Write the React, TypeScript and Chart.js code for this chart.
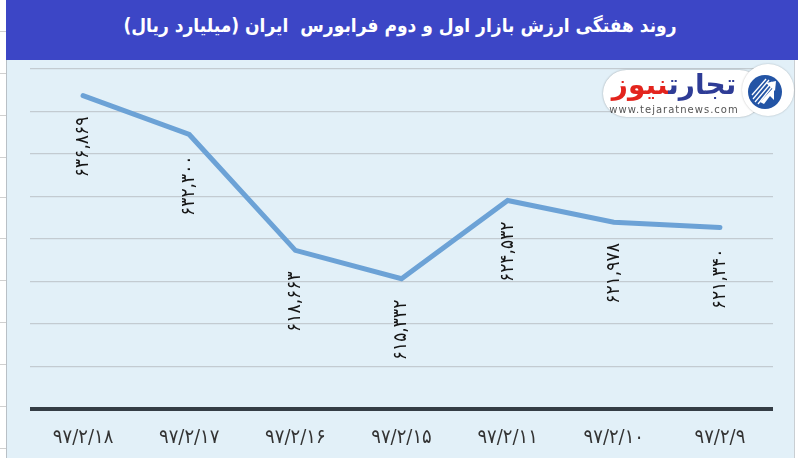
import React, { useEffect, useRef } from "react";
import { Chart, registerables } from "chart.js";

Chart.register(...registerables);

const categories = ["۹۷/۲/۱۸", "۹۷/۲/۱۷", "۹۷/۲/۱۶", "۹۷/۲/۱۵", "۹۷/۲/۱۱", "۹۷/۲/۱۰", "۹۷/۲/۹"];
const values = [636.869, 632.3, 618.663, 615.332, 624.532, 621.978, 621.34];
const yMin = 600;
const yMax = 640;
const yStep = 5;
const titleText = "روند هفتگی ارزش بازار اول و دوم فرابورس  ایران (میلیارد ریال)";

const FONT = '"DejaVu Sans Condensed", "DejaVu Sans", sans-serif';
const persianDigits = "۰۱۲۳۴۵۶۷۸۹";
function fmt(v: number): string {
  return v
    .toFixed(3)
    .replace(".", ",")
    .replace(/[0-9]/g, (d) => persianDigits[Number(d)]);
}

const labelPlugin = {
  id: "valueLabels",
  afterDatasetsDraw(chart: any) {
    const meta = chart.getDatasetMeta(0);
    const ctx = chart.ctx as CanvasRenderingContext2D;
    ctx.save();
    ctx.font = `19px ${FONT}`;
    ctx.fillStyle = "#151515";
    ctx.textAlign = "right";
    ctx.textBaseline = "middle";
    meta.data.forEach((pt: any, i: number) => {
      ctx.save();
      ctx.translate(pt.x, pt.y + 21);
      ctx.rotate(-Math.PI / 2);
      ctx.fillText(fmt(values[i]), 0, 0);
      ctx.restore();
    });
    ctx.restore();
  },
};

export default function App() {
  const canvasRef = useRef<HTMLCanvasElement | null>(null);

  useEffect(() => {
    if (!canvasRef.current) return;
    const chart = new Chart(canvasRef.current, {
      type: "line",
      data: {
        labels: categories,
        datasets: [
          {
            data: values,
            borderColor: "#6ca2d6",
            borderWidth: 5,
            pointRadius: 0,
            tension: 0,
            borderCapStyle: "round",
            fill: false,
          },
        ],
      },
      options: {
        animation: false,
        responsive: false,
        maintainAspectRatio: false,
        layout: { padding: { left: 30, right: 27, top: 69, bottom: 11 } },
        plugins: {
          legend: { display: false },
          tooltip: { enabled: false },
          title: { display: false },
        },
        scales: {
          x: {
            offset: true,
            grid: { display: false, drawTicks: false },
            border: { display: false },
            afterFit: (scale: any) => {
              scale.height = 38;
            },
            ticks: {
              color: "#333333",
              font: { family: FONT, size: 20 },
              padding: 17,
              maxRotation: 0,
              autoSkip: false,
            },
          },
          y: {
            min: yMin,
            max: yMax,
            ticks: { display: false, stepSize: yStep },
            grid: {
              drawTicks: false,
              color: (c: any) => (c.tick && c.tick.value === yMin ? "#343d45" : "#c3cbd1"),
              lineWidth: (c: any) => (c.tick && c.tick.value === yMin ? 4 : 1.2),
            },
            border: { display: false },
          },
        },
      },
      plugins: [labelPlugin],
    } as any);
    return () => chart.destroy();
  }, []);

  const spreadsheetRows = [31, 73, 115, 157, 197, 238, 280, 322, 364, 406, 448];

  return (
    <div style={{ position: "fixed", left: 0, top: 0, width: 800, height: 458, background: "#ffffff", overflow: "hidden" }}>
      {spreadsheetRows.map((y) => (
        <div key={y} style={{ position: "absolute", left: 0, top: y, width: 6, height: 1, background: "#d0d0d0" }} />
      ))}
      <div style={{ position: "absolute", left: 6, top: 0, width: 792, height: 60, background: "#3c46c6" }} />
      <div
        style={{
          position: "absolute",
          left: 6,
          top: 60,
          width: 789,
          height: 398,
          background: "#e2f0f8",
          borderLeft: "1px solid #b9c0c6",
          borderRight: "1px solid #c9ced2",
          boxSizing: "border-box",
        }}
      />
      <div
        style={{
          position: "absolute",
          left: 0,
          top: 9,
          width: 800,
          textAlign: "center",
          color: "#ffffff",
          fontFamily: FONT,
          fontWeight: "bold",
          fontSize: 19,
          lineHeight: "32px",
          direction: "rtl",
          whiteSpace: "pre",
        }}
      >
        {titleText}
      </div>
      <canvas ref={canvasRef} width={800} height={458} style={{ position: "absolute", left: 0, top: 0, width: 800, height: 458 }} />
      {/* logo */}
      <div
        style={{
          position: "absolute",
          left: 603,
          top: 70,
          width: 160,
          height: 47,
          background: "#ffffff",
          borderRadius: 24,
          boxShadow: "0 0 2px rgba(0,0,0,0.35)",
        }}
      />
      <div
        style={{
          position: "absolute",
          left: 742,
          top: 64,
          width: 52,
          height: 52,
          background: "#ffffff",
          borderRadius: 26,
          boxShadow: "0 0 2px rgba(0,0,0,0.25)",
        }}
      />
      <svg style={{ position: "absolute", left: 748, top: 75 }} width={34} height={34} viewBox="0 0 34 34">
        <circle cx={17} cy={17} r={17} fill="#2354a5" />
        <g stroke="#ffffff" strokeWidth={1.3}>
          <line x1={4} y1={20} x2={18} y2={4} />
          <line x1={5} y1={24} x2={21} y2={5} />
          <line x1={7} y1={27} x2={24} y2={7} />
          <line x1={10} y1={29} x2={26} y2={9} />
        </g>
        <polygon points="12,27 26,12 26,25 22,21 16,29" fill="#ffffff" />
        <polygon points="18,8 28,6 27,16" fill="#ffffff" />
      </svg>
      <div
        style={{
          position: "absolute",
          left: 604,
          top: 68,
          width: 140,
          textAlign: "center",
          direction: "rtl",
          fontFamily: '"DejaVu Sans", sans-serif',
          fontWeight: "bold",
          fontSize: 28,
          lineHeight: "34px",
          whiteSpace: "nowrap",
        }}
      >
        <span style={{ color: "#2e3c96" }}>تجارت</span>
        <span style={{ color: "#e3241d" }}>نیوز</span>
      </div>
      <div
        style={{
          position: "absolute",
          left: 604,
          top: 103,
          width: 140,
          textAlign: "center",
          fontFamily: '"DejaVu Sans", sans-serif',
          fontSize: 10,
          letterSpacing: 1,
          lineHeight: "14px",
          color: "#555555",
          whiteSpace: "nowrap",
        }}
      >
        www.tejaratnews.com
      </div>
    </div>
  );
}
